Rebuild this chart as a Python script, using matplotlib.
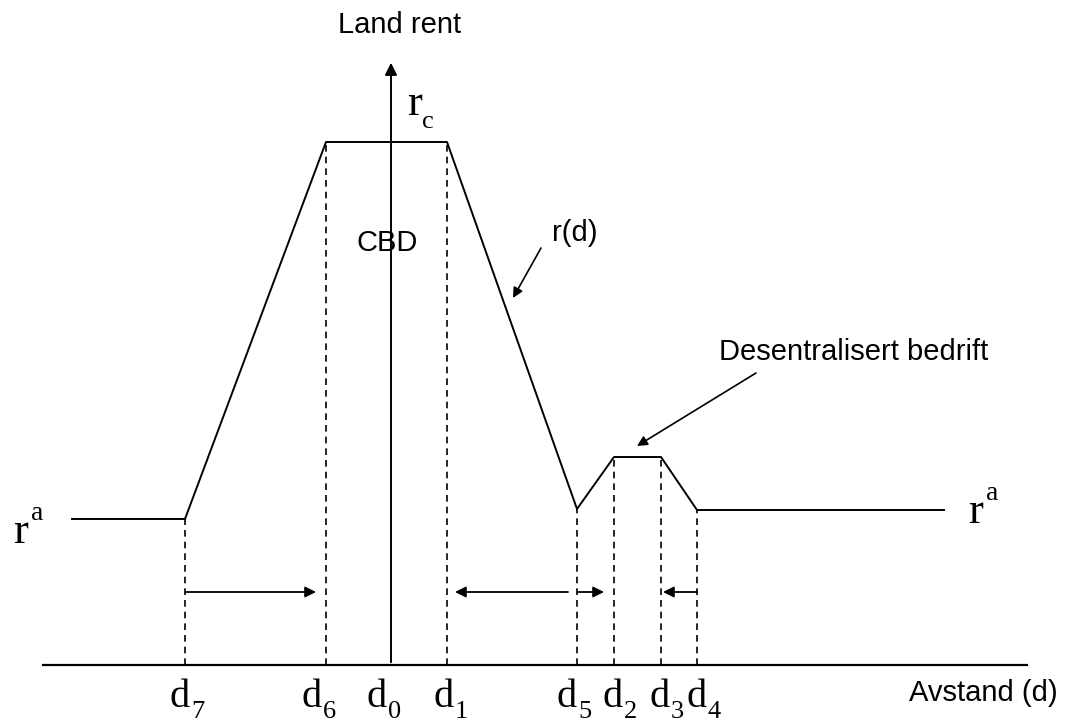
import matplotlib.pyplot as plt

plt.rcParams['font.family'] = ['Liberation Sans', 'DejaVu Sans']

# distances along the axis (d0 = city centre)
d_names = ['d7', 'd6', 'd0', 'd1', 'd5', 'd2', 'd3', 'd4']
d_pos = [-206, -65, 0, 56, 186, 223, 270, 306]

# rent levels
r_c = 523
r_a_left = 146
r_a_right = 155
r_dip = 156
r_firm = 208

# bid-rent profile r(d)
prof_x = [-319, -206, -65, 56, 186, 223, 270, 306, 553]
prof_y = [r_a_left, r_a_left, r_c, r_c, r_dip, r_firm, r_firm, r_a_right, r_a_right]

d = dict(zip(d_names, d_pos))
dash_h = {'d7': r_a_left, 'd6': r_c, 'd1': r_c, 'd5': r_dip,
          'd2': r_firm, 'd3': r_firm, 'd4': r_a_right}

serif = 'Liberation Serif'

fig = plt.figure(figsize=(10.75, 7.25), dpi=100)
ax = fig.add_axes([0, 0, 1, 1])
ax.set_xlim(-391, 684)
ax.set_ylim(-60, 665)
ax.axis('off')

# axes
ax.plot([-348, 636], [0, 0], color='black', lw=1.6)
ax.annotate('', xy=(0, 605), xytext=(0, 0),
            arrowprops=dict(arrowstyle='-|>', color='black', lw=1.4, mutation_scale=18))

# profile
ax.plot(prof_x, prof_y, color='black', lw=1.4)

# dashed guides
for k, h in dash_h.items():
    ax.plot([d[k], d[k]], [0, h], color='black', lw=1.2, ls=(0, (4, 3)))

# movement arrows
arr_y = 73
aprops = dict(arrowstyle='-|>', color='black', lw=1.3, mutation_scale=16,
              shrinkA=0, shrinkB=0)
ax.annotate('', xy=(d['d6'] - 10, arr_y), xytext=(d['d7'], arr_y), arrowprops=aprops)
ax.annotate('', xy=(d['d1'] + 8, arr_y), xytext=(d['d5'] - 9, arr_y), arrowprops=aprops)
ax.annotate('', xy=(d['d2'] - 10, arr_y), xytext=(d['d5'], arr_y), arrowprops=aprops)
ax.annotate('', xy=(d['d3'] + 2, arr_y), xytext=(d['d4'], arr_y), arrowprops=aprops)

# d labels: big "d" with a low subscript
nudge = [5, -4, -4, 7, 0, 9, 9, 10]
for k, dx in zip(d_names, nudge):
    xr = d[k] + dx
    ax.text(xr, -42, 'd', ha='right', va='baseline', fontsize=29, family=serif)
    ax.text(xr + 1, -53, k[1], ha='left', va='baseline', fontsize=19, family=serif)


def r_label(x, y, s, dx, sub, big=32, small=20):
    ax.text(x, y, 'r', ha='left', va='baseline', fontsize=big, family=serif)
    ax.text(x + dx, y + sub, s, ha='left', va='baseline', fontsize=small, family=serif)


r_label(-378, 122, 'a', 18, 23)
r_label(577, 142, 'a', 18, 23)
r_label(16, 550, 'c', 15, -13, small=19)

# text labels
ax.text(9, 640, 'Land rent', ha='center', va='center', fontsize=21)
ax.text(-4, 422, 'CBD', ha='center', va='center', fontsize=21)
ax.text(184, 432, 'r(d)', ha='center', va='center', fontsize=21)
ax.text(463, 313, 'Desentralisert bedrift', ha='center', va='center', fontsize=21)
ax.text(592, -28, 'Avstand (d)', ha='center', va='center', fontsize=21)

pointer = dict(arrowstyle='-|>', color='black', lw=1.2, mutation_scale=15,
               shrinkA=0, shrinkB=0)
ax.annotate('', xy=(122, 367), xytext=(150, 417), arrowprops=pointer)
ax.annotate('', xy=(246, 219), xytext=(365, 292), arrowprops=pointer)

fig.savefig('out.png', dpi=100)
